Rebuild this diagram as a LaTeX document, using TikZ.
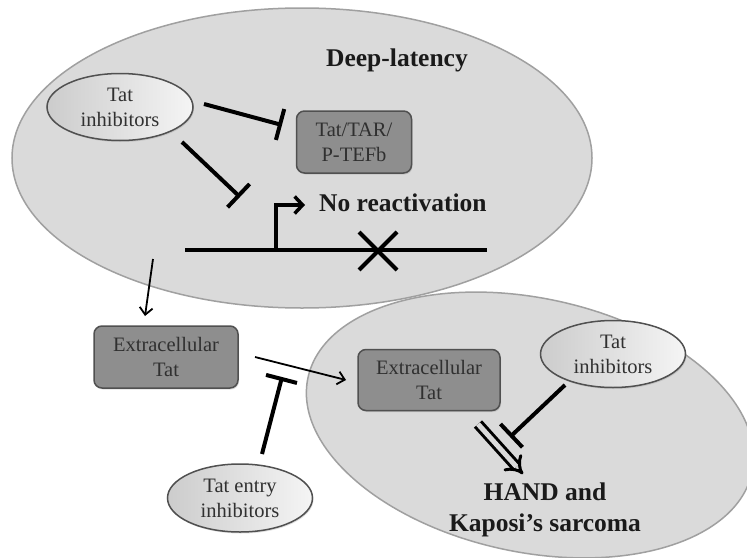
\documentclass[tikz,border=0pt]{standalone}
\usepackage{fontspec}
\setmainfont{Liberation Serif}
\usetikzlibrary{shapes.geometric,shapes.misc,arrows.meta,shadows}

\definecolor{cellfill}{HTML}{DADADA}
\definecolor{cellline}{HTML}{A0A0A0}
\definecolor{boxfill}{HTML}{8E8E8E}
\definecolor{boxline}{HTML}{505050}
\definecolor{txtgray}{HTML}{303030}
\definecolor{titletxt}{HTML}{1A1A1A}

\newcommand{\regfont}{\fontsize{20.5pt}{25pt}\selectfont}
\newcommand{\titfont}{\fontsize{25.5pt}{31pt}\selectfont\bfseries}

\begin{document}
\begin{tikzpicture}[x=1pt,y=-1pt,
  cellshape/.style={ellipse,fill=cellfill,draw=cellline,line width=1.5pt,inner sep=0pt},
  graybox/.style={rectangle,rounded corners=8pt,fill=boxfill,draw=boxline,line width=1.5pt,
    minimum width=115pt,minimum height=62pt,align=center,text=txtgray,font=\regfont,inner sep=0pt,
    drop shadow={opacity=0.25,shadow xshift=1pt,shadow yshift=-1.5pt}},
  inhel/.style={ellipse,draw=boxline,line width=1.5pt,left color=black!20,middle color=white,right color=black!4,
    minimum width=146pt,minimum height=67pt,align=center,text=txtgray,font=\regfont,inner sep=0pt,
    drop shadow={opacity=0.25,shadow xshift=1pt,shadow yshift=-1.5pt}},
  titletext/.style={font=\titfont,text=titletxt,align=center,inner sep=0pt},
  inh/.style={line width=4pt,-{Bar[width=32pt,line width=4pt]}},
  thinarr/.style={line width=1.8pt,-{Straight Barb[length=7pt,width=13pt,line width=1.8pt]}},
  dnaline/.style={line width=4pt},
  promarr/.style={line width=3.5pt,-{Straight Barb[length=8pt,width=17pt,line width=3.5pt]}},
  dblarr/.style={double=cellfill,double distance=5pt,line width=3pt,-{Implies[length=10pt]}}
]
\useasboundingbox (0,0) rectangle (747,557);
\fill[white] (0,0) rectangle (747,557);
\clip (0,0) rectangle (747,557);

% cells
\node[cellshape,minimum width=580pt,minimum height=300pt] (cell1) at (302,158) {};
\node[cellshape,minimum width=454pt,minimum height=254pt,rotate=-12] (cell2) at (530,425) {};

% deep latency cell
\node[titletext] (deep) at (397,60) {Deep-latency};
\node[inhel] (ti1) at (120,107) {Tat\\inhibitors};
\node[graybox] (tar) at (354,142) {Tat/TAR/\\P-TEFb};
\node[titletext,anchor=west] (noreact) at (319,203) {No reactivation};

\coordinate (dnaL) at (185,250);
\coordinate (dnaR) at (487,250);
\coordinate (prom) at (276,250);
\coordinate (promtip) at (305,205);
\draw[dnaline] (dnaL) -- (dnaR);
\draw[promarr] (prom) |- (promtip);
\node[cross out,draw=black,line width=4pt,minimum size=34pt,inner sep=0pt] (xm) at (378,251) {};

\coordinate (i1s) at (204,104);
\coordinate (i1e) at (282,125);
\coordinate (i2s) at (182,142);
\coordinate (i2e) at (240,197);
\draw[inh] (i1s) -- (i1e);
\draw[inh] (i2s) -- (i2e);

% extracellular
\node[graybox,minimum width=144pt] (ex1) at (166,357) {Extracellular\\Tat};
\coordinate (a1s) at (153,259);
\coordinate (a1e) at (145,316);
\draw[thinarr] (a1s) -- (a1e);

\node[graybox,minimum width=142pt,minimum height=61pt] (ex2) at (429,380) {Extracellular\\Tat};
\coordinate (a2s) at (255,357);
\coordinate (a2e) at (346,380);
\draw[thinarr] (a2s) -- (a2e);

\node[inhel,minimum width=145pt,minimum height=68pt] (tei) at (240,498) {Tat entry\\inhibitors};
\coordinate (i3s) at (262,454);
\coordinate (i3e) at (282,377);
\draw[inh] (i3s) -- (i3e);

\node[inhel,minimum width=145pt,minimum height=67pt] (ti2) at (613,354) {Tat\\inhibitors};
\coordinate (i4s) at (565,385);
\coordinate (i4e) at (510,437);
\draw[inh] (i4s) -- (i4e);

\coordinate (d1s) at (478,424);
\coordinate (d1e) at (523,474);
\draw[dblarr] (d1s) -- (d1e);

\node[titletext] (hand) at (545,510) {HAND and\\Kaposi’s sarcoma};
\end{tikzpicture}
\end{document}
